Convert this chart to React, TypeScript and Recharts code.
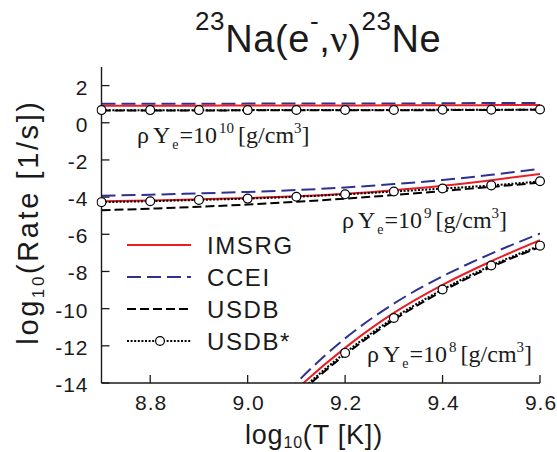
import React from 'react';
import { ComposedChart, Line, XAxis, YAxis, Legend } from 'recharts';

// log10(T [K]) grid shared by every curve
const logT = [8.7, 8.8, 8.9, 9.0, 9.1, 9.2, 9.3, 9.4, 9.5, 9.6];
const xTicks = [8.8, 9.0, 9.2, 9.4, 9.6];
const yTicks = [-14, -12, -10, -8, -6, -4, -2, 0, 2];

// log10(rate [1/s]) at rho*Ye = 1e10 g/cm^3
const imsrg10 = [0.92, 0.92, 0.92, 0.93, 0.93, 0.93, 0.94, 0.94, 0.95, 0.96];
const ccei10 = [1.02, 1.02, 1.02, 1.03, 1.03, 1.04, 1.04, 1.05, 1.06, 1.07];
const usdb10 = [0.66, 0.66, 0.66, 0.67, 0.67, 0.67, 0.68, 0.68, 0.69, 0.7];
const usdbs10 = [0.68, 0.68, 0.68, 0.68, 0.69, 0.69, 0.69, 0.7, 0.7, 0.71];

// rho*Ye = 1e9 g/cm^3
const imsrg9 = [-4.22, -4.18, -4.12, -4.05, -3.96, -3.82, -3.63, -3.39, -3.09, -2.75];
const ccei9 = [-3.92, -3.87, -3.8, -3.72, -3.62, -3.48, -3.3, -3.08, -2.8, -2.48];
const usdb9 = [-4.71, -4.62, -4.52, -4.4, -4.25, -4.08, -3.89, -3.67, -3.45, -3.22];
const usdbs9 = [-4.27, -4.22, -4.15, -4.08, -3.98, -3.85, -3.7, -3.54, -3.37, -3.15];

// rho*Ye = 1e8 g/cm^3 (no values at the lowest temperatures)
const imsrg8 = [null, null, null, -17.0, -14.35, -12.11, -10.23, -8.72, -7.45, -6.32];
const ccei8 = [null, null, null, -17.0, -14.0, -11.6, -9.73, -8.26, -7.04, -5.96];
const usdb8 = [null, null, null, -17.45, -14.72, -12.48, -10.6, -9.06, -7.76, -6.68];
const usdbs8 = [null, null, null, -17.35, -14.62, -12.38, -10.5, -8.97, -7.68, -6.61];

const densityExponents = ['10', '9', '8'];

const seriesValues: Record<string, (number | null)[]> = {
  imsrg10, ccei10, usdb10, usdbs10,
  imsrg9, ccei9, usdb9, usdbs9,
  imsrg8, ccei8, usdb8, usdbs8,
};

const data = logT.map((t, i) => {
  const row: Record<string, number | null> = { t };
  Object.keys(seriesValues).forEach((k) => {
    row[k] = seriesValues[k][i];
  });
  return row;
});

const RED = '#ec1c24';
const BLUE = '#2e3192';
const BLACK = '#000000';

type Model = { key: string; name: string; color: string; dash?: string; marker?: boolean };

// drawing order (bottom to top)
const models: Model[] = [
  { key: 'ccei', name: 'CCEI', color: BLUE, dash: '14 6' },
  { key: 'imsrg', name: 'IMSRG', color: RED },
  { key: 'usdb', name: 'USDB', color: BLACK, dash: '9 4' },
  { key: 'usdbs', name: 'USDB*', color: BLACK, dash: '2 1.6', marker: true },
];
const legendOrder = ['imsrg', 'ccei', 'usdb', 'usdbs'];

const SANS = "'Liberation Sans', Arial, Helvetica, sans-serif";
const SERIF = "'Liberation Serif', 'Times New Roman', serif";
const AXIS = '#1a1a1a';
const tickText = { fontFamily: SANS, fontSize: 21, fill: '#1a1a1a', letterSpacing: 1 };

const BottomTick = (p: any) => (
  <g>
    <line x1={p.x} x2={p.x} y1={p.y} y2={p.y - 8} stroke={AXIS} strokeWidth={1.3} />
    <text x={p.x + 1} y={p.y + 27} textAnchor="middle" {...tickText}>
      {Number(p.payload.value).toFixed(1)}
    </text>
  </g>
);

const TopTick = (p: any) => (
  <line x1={p.x} x2={p.x} y1={p.y} y2={p.y + 8} stroke={AXIS} strokeWidth={1.3} />
);

const LeftTick = (p: any) => (
  <g>
    <line x1={p.x} x2={p.x + 8} y1={p.y} y2={p.y} stroke={AXIS} strokeWidth={1.3} />
    <text x={p.x - 13} y={p.y + 9} textAnchor="end" {...tickText}>
      {String(p.payload.value)}
    </text>
  </g>
);

const RightTick = (p: any) => (
  <line x1={p.x} x2={p.x - 8} y1={p.y} y2={p.y} stroke={AXIS} strokeWidth={1.3} />
);

const DensityLabel = ({ x, y, exp }: { x: number; y: number; exp: string }) => (
  <text x={x} y={y} fontFamily={SERIF} fontSize={24} fill="#1a1a1a">
    <tspan>ρ</tspan>
    <tspan dx={4}>Y</tspan>
    <tspan fontSize={14} y={y + 6} dx={2}>e</tspan>
    <tspan y={y} dx={1}>=10</tspan>
    <tspan fontSize={15} y={y - 10} dx={2}>{exp}</tspan>
    <tspan y={y} dx={4}>[g/cm</tspan>
    <tspan fontSize={15} y={y - 10}>3</tspan>
    <tspan y={y}>]</tspan>
  </text>
);

const LegendBox = () => {
  const rows = legendOrder.map((k) => models.find((m) => m.key === k)!);
  return (
    <svg width={200} height={135} style={{ display: 'block' }}>
      {rows.map((m, i) => {
        const cy = 20 + i * 32;
        return (
          <g key={m.key}>
            <line
              x1={17}
              x2={81}
              y1={cy}
              y2={cy}
              stroke={m.color}
              strokeWidth={2}
              strokeDasharray={m.dash}
            />
            {m.marker && <circle cx={50} cy={cy} r={4.4} fill="#fff" stroke="#000" strokeWidth={1.2} />}
            <text x={97} y={cy + 8.5} fontFamily={SANS} fontSize={24} letterSpacing={1.6} fill="#1a1a1a">
              {m.name}
            </text>
          </g>
        );
      })}
    </svg>
  );
};

export default function App() {
  return (
    <div style={{ position: 'absolute', left: 0, top: 0, background: '#fff' }}>
      <ComposedChart
        width={557}
        height={452}
        data={data}
        margin={{ top: 67, right: 17, bottom: 0, left: 0 }}
      >
        <XAxis
          dataKey="t"
          type="number"
          domain={[8.7, 9.6]}
          ticks={xTicks}
          allowDataOverflow
          height={69}
          tickSize={0}
          tickMargin={0}
          tickLine={false}
          tick={BottomTick}
          axisLine={{ stroke: AXIS, strokeWidth: 1.4 }}
        />
        <XAxis
          xAxisId="top"
          orientation="top"
          dataKey="t"
          type="number"
          domain={[8.7, 9.6]}
          ticks={xTicks}
          allowDataOverflow
          height={0}
          tickSize={0}
          tickMargin={0}
          tickLine={false}
          tick={TopTick}
          axisLine={{ stroke: AXIS, strokeWidth: 1.4 }}
        />
        <YAxis
          type="number"
          domain={[-14, 3]}
          ticks={yTicks}
          allowDataOverflow
          width={101.5}
          tickSize={0}
          tickMargin={0}
          tickLine={false}
          tick={LeftTick}
          axisLine={{ stroke: AXIS, strokeWidth: 1.4 }}
        />
        <YAxis
          yAxisId="right"
          orientation="right"
          type="number"
          domain={[-14, 3]}
          ticks={yTicks}
          allowDataOverflow
          width={0}
          tickSize={0}
          tickMargin={0}
          tickLine={false}
          tick={RightTick}
          axisLine={{ stroke: AXIS, strokeWidth: 1.4 }}
        />
        <Legend
          layout="vertical"
          align="center"
          verticalAlign="middle"
          content={() => <LegendBox />}
          wrapperStyle={{ left: 110, top: 225, width: 200, height: 135 }}
        />
        {densityExponents.map((d) =>
          models.map((m) => (
            <Line
              key={`${m.key}${d}`}
              dataKey={`${m.key}${d}`}
              name={m.name}
              type="monotone"
              stroke={m.color}
              strokeWidth={2}
              strokeDasharray={m.dash}
              dot={
                m.marker
                  ? { r: 4.4, fill: '#fff', stroke: '#000', strokeWidth: 1.2, strokeDasharray: 'none', clipDot: false }
                  : false
              }
              activeDot={false}
              legendType="none"
              isAnimationActive={false}
            />
          ))
        )}
        <text x={195} y={52} fontFamily={SANS} fontSize={38} fill="#1a1a1a" letterSpacing={0.6}>
          <tspan fontSize={26} dy={-22}>23</tspan>
          <tspan dy={22}>Na(e</tspan>
          <tspan fontSize={26} dy={-22}>-</tspan>
          <tspan dy={22}>,</tspan>
          <tspan fontFamily={SERIF}>ν</tspan>
          <tspan>)</tspan>
          <tspan fontSize={26} dy={-22}>23</tspan>
          <tspan dy={22}>Ne</tspan>
        </text>
        <text x={245} y={444} fontFamily={SANS} fontSize={27} fill="#1a1a1a" letterSpacing={0.8}>
          <tspan>log</tspan>
          <tspan fontSize={16} dy={4}>10</tspan>
          <tspan dy={-4}>(T [K])</tspan>
        </text>
        <text
          x={38}
          y={222}
          transform="rotate(-90, 38, 222)"
          textAnchor="middle"
          fontFamily={SANS}
          fontSize={29}
          fill="#1a1a1a"
          letterSpacing={2.6}
        >
          <tspan>log</tspan>
          <tspan fontSize={17} dy={6}>10</tspan>
          <tspan dy={-6}>(Rate [1/s])</tspan>
        </text>
        <DensityLabel x={137} y={143} exp="10" />
        <DensityLabel x={342} y={228} exp="9" />
        <DensityLabel x={367} y={362} exp="8" />
      </ComposedChart>
    </div>
  );
}
